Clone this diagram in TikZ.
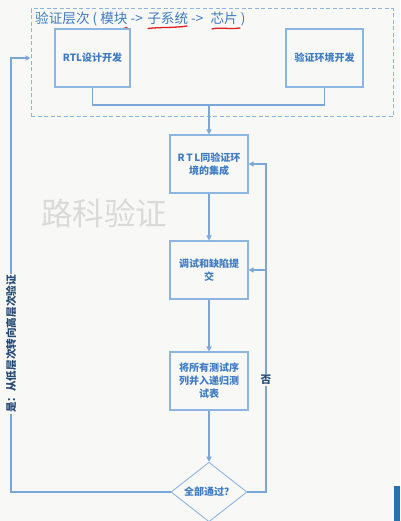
\documentclass[tikz,border=0pt]{standalone}
\usepackage{fontspec}
\newfontfamily\cjk{Noto Sans CJK SC}
\usetikzlibrary{arrows.meta,shapes.geometric}
\definecolor{paper}{HTML}{F8F8F6}
\definecolor{flow}{HTML}{7BA7D8}
\definecolor{frame}{HTML}{8DB5E2}
\definecolor{ink}{HTML}{3F7CC4}
\definecolor{penred}{HTML}{E0201E}
\definecolor{wm}{HTML}{DADADA}
\definecolor{tab}{HTML}{2A6FB0}
\begin{document}
\begin{tikzpicture}[x=1pt,y=-1pt,
  stepbox/.style={draw=frame,line width=1.1pt,fill=paper,inner sep=2pt,
    minimum width=77pt,minimum height=58pt,align=center,text=ink,
    font=\cjk\bfseries\fontsize{10}{13}\selectfont},
  decide/.style={diamond,draw=frame,line width=0.9pt,fill=paper,inner sep=0pt,
    minimum width=76pt,minimum height=56pt,text=ink,
    font=\cjk\bfseries\fontsize{10}{13}\selectfont},
  link/.style={draw=flow,line width=1.4pt},
  arr/.style={link,-{Triangle[length=5pt,width=5pt]}},
  tag/.style={fill=paper,inner sep=1pt,text=ink!60!black,
    font=\cjk\bfseries\fontsize{10.6}{12}\selectfont},
  underline/.style={draw=penred,line width=1.3pt,line cap=round},
  groupbox/.style={draw=frame,line width=1pt,dash pattern=on 4pt off 2.5pt,
    minimum width=362pt,minimum height=108pt,inner sep=0pt}
]
\useasboundingbox[fill=paper] (0,0) rectangle (400,521);

% level frame and its heading
\node[groupbox] (level) at (212,63) {};
\node[anchor=west,inner sep=0pt,text=ink,font=\cjk\fontsize{13.6}{15}\selectfont]
  (head) at (35,19.5) {验证层次 ( 模块 -> \hspace{1.5pt}子系统 -> \hspace{4pt}芯片 )};
% red pen underlines
\draw[underline] (97,29) .. controls (108,30.5) and (120,30) .. (127,27.5);
\draw[underline] (148,28.5) .. controls (160,27) and (176,28) .. (187,26);
\draw[underline] (212,29) .. controls (218,27) and (230,29.5) .. (240,28);

% watermark
\node[text=wm,inner sep=0pt,font=\cjk\fontsize{31.5}{33}\selectfont] (wmark) at (104,213) {路科验证};

% process boxes
\node[stepbox,minimum width=75pt] (rtl) at (92.5,58) {RTL设计开发};
\node[stepbox] (env) at (324.5,58) {验证环境开发};
\node[stepbox,minimum width=78pt] (integ) at (209,164) {R\,T\,L同验证环\\境的集成};
\node[stepbox,minimum width=78pt] (debug) at (209,270) {调试和缺陷提\\交};
\node[stepbox,minimum width=78pt] (regr) at (209,381) {将所有测试序\\列并入递归测\\试表};
\node[decide] (pass) at (209,492) {全部通过？};

% merge of the two developments
\coordinate (join) at (209,105);
\draw[link] (rtl.south) |- (join) -| (env.south);
\draw[arr] (join) -- (integ.north);
\draw[arr] (integ) -- (debug);
\draw[arr] (debug) -- (regr);
\draw[arr] (regr) -- (pass.north);

% "no" loop back
\coordinate (noc) at (266,492);
\draw[arr] (pass.east) -- (noc) |- (integ.east);
\draw[arr] (noc |- debug.east) -- (debug.east);
\node[tag] (nolab) at (266,380) {否};

% "yes" loop to the next level
\coordinate (ylow) at (11,492);
\coordinate (yhigh) at (11,58);
\draw[arr] (pass.west) -- (ylow) -- (yhigh) -- (level.west |- yhigh);
\node[tag,rotate=90] (yeslab) at (11,344) {是：从低层次转向高层次验证};

% edge tab
\fill[tab] (394,486) rectangle (400,521);
\end{tikzpicture}
\end{document}
